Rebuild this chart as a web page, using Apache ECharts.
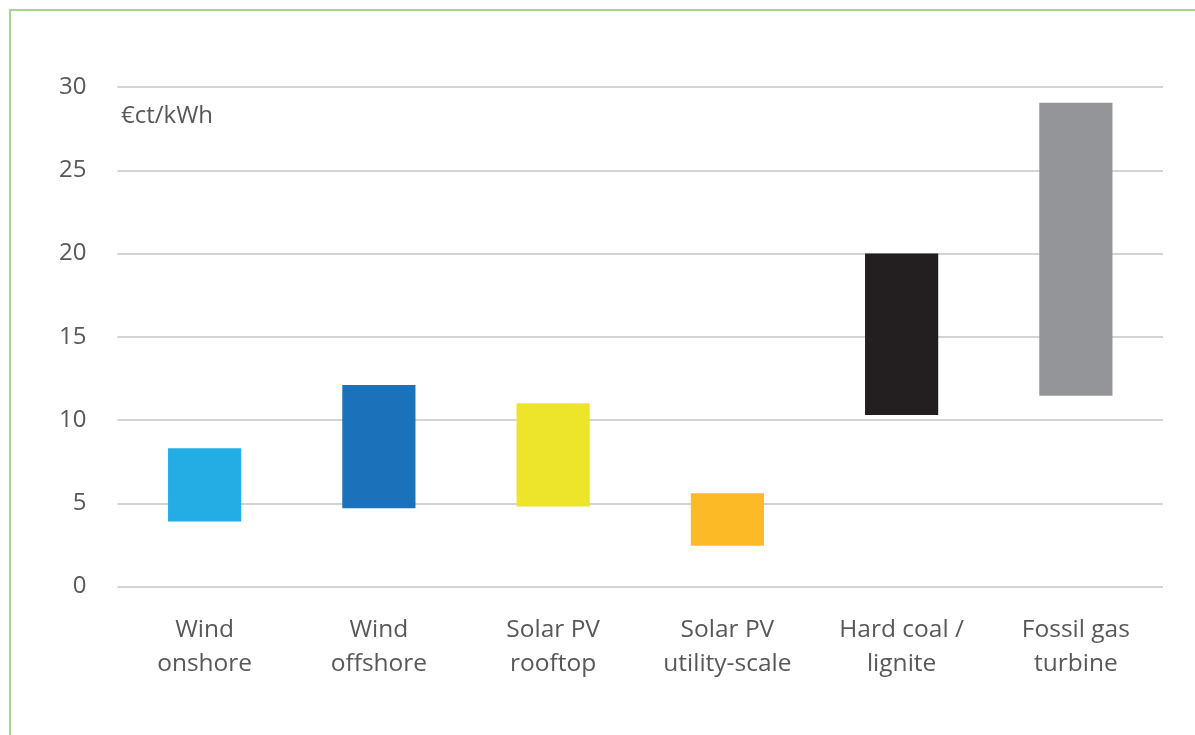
<!DOCTYPE html>
<html>
<head>
<meta charset="utf-8">
<script src="https://cdn.jsdelivr.net/npm/echarts@6/dist/echarts.min.js"></script>
<style>
html,body{margin:0;padding:0;background:#fff;overflow:hidden;}
#frame{position:absolute;left:9px;top:9px;width:2000px;height:2000px;border-left:2px solid #a8d48c;border-top:2px solid #a8d48c;}
#chart{position:absolute;left:0;top:0;width:1195px;height:735px;}
</style>
</head>
<body>
<div id="frame"></div>
<div id="chart"></div>
<script>
const categories = ['Wind\nonshore', 'Wind\noffshore', 'Solar PV\nrooftop', 'Solar PV\nutility-scale', 'Hard coal /\nlignite', 'Fossil gas\nturbine'];
const lowValues = [3.9, 4.7, 4.8, 2.45, 10.3, 11.45];
const highValues = [8.3, 12.1, 11.0, 5.6, 20.0, 29.05];
const barColors = ['#23ade4', '#1b72bb', '#ece52a', '#fdba27', '#231f20', '#939598'];
const yTicks = { min: 0, max: 30, interval: 5 };
const unitLabel = '€ct/kWh';

const textColor = '#57585a';
const fontFamily = '"Open Sans", "Noto Sans", sans-serif';

const chart = echarts.init(document.getElementById('chart'));
chart.setOption({
  animation: false,
  grid: { left: 117.5, right: 32, top: 87, bottom: 735 - 586.5 },
  graphic: [{
    type: 'text', left: 121, top: 104,
    style: { text: unitLabel, fill: textColor, font: '24px ' + fontFamily }
  }],
  xAxis: {
    type: 'category',
    data: categories,
    axisLine: { show: false },
    axisTick: { show: false },
    axisLabel: { color: textColor, fontFamily: fontFamily, fontSize: 24.5, lineHeight: 34, margin: 27, interval: 0 }
  },
  yAxis: {
    type: 'value',
    min: yTicks.min, max: yTicks.max, interval: yTicks.interval,
    axisLine: { show: false },
    axisTick: { show: false },
    splitLine: { lineStyle: { color: '#d2d3d4', width: 2 } },
    axisLabel: { color: textColor, fontFamily: fontFamily, fontSize: 24, margin: 31 }
  },
  series: [
    {
      type: 'bar', stack: 'range', barWidth: '42%',
      itemStyle: { color: 'transparent' },
      data: lowValues,
      silent: true
    },
    {
      type: 'bar', stack: 'range', barWidth: '42%',
      data: highValues.map((h, i) => ({ value: +(h - lowValues[i]).toFixed(2), itemStyle: { color: barColors[i] } }))
    }
  ]
});
</script>
</body>
</html>
